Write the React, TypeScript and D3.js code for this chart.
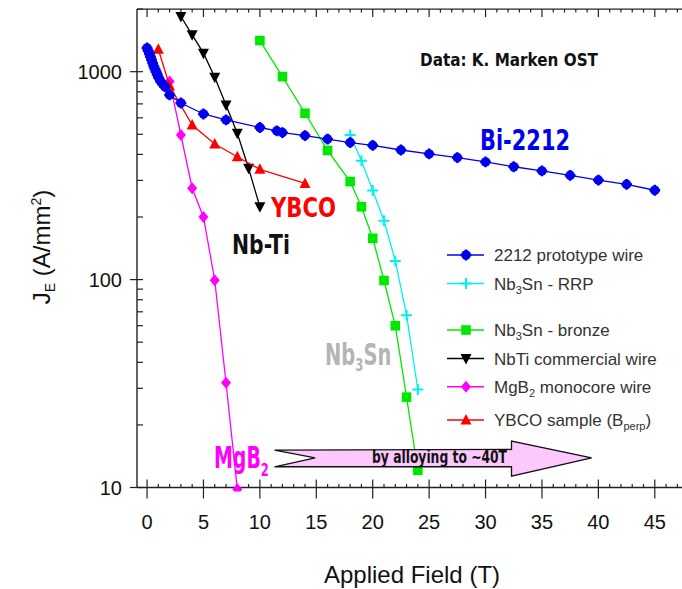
import React from "react";
import * as d3 from "d3";

// Engineering critical current density vs applied field, by conductor
const bi2212Field = [0, 0.1, 0.2, 0.3, 0.4, 0.5, 0.6, 0.7, 0.8, 0.9, 1.0, 1.2, 1.4, 1.6, 2, 3, 5, 7, 10, 11.5, 12, 14, 16, 18, 20, 22.5, 25, 27.5, 30, 32.5, 35, 37.5, 40, 42.5, 45];
const bi2212Je = [1300, 1260, 1220, 1180, 1140, 1100, 1060, 1030, 1000, 970, 940, 900, 870, 845, 773, 707, 626, 586, 539, 519, 509, 493, 474, 456, 442, 420, 402, 386, 368, 349, 333, 317, 301, 287, 269];

const rrpField = [18, 19, 20, 21, 22, 23, 24];
const rrpJe = [496, 373, 268, 192, 123, 67.4, 29.6];

const bronzeField = [10, 12, 14, 16, 18, 19, 20, 21, 22, 23, 24];
const bronzeJe = [1412, 947, 631, 418, 296, 224, 158, 99, 60, 27.2, 12.1];

const nbtiField = [3, 4, 5, 6, 7, 8, 9, 10];
const nbtiJe = [1843, 1504, 1228, 941, 692, 506, 343, 224];

const mgb2Field = [2, 3, 4, 5, 6, 7, 8];
const mgb2Je = [896, 496, 275, 200, 99.3, 31.9, 9.8];

const ybcoField = [1, 2, 4, 6, 8, 10, 14];
const ybcoJe = [1283, 854, 554, 449, 390, 339, 290];

const xTicks = [0, 5, 10, 15, 20, 25, 30, 35, 40, 45];
const yTicks = [10, 100, 1000];

type Shape = "circle" | "plus" | "square" | "down" | "diamond" | "up";

const series: { name: string; field: number[]; je: number[]; color: string; shape: Shape }[] = [
  { name: "bronze", field: bronzeField, je: bronzeJe, color: "#00e800", shape: "square" },
  { name: "rrp", field: rrpField, je: rrpJe, color: "#00f0f0", shape: "plus" },
  { name: "nbti", field: nbtiField, je: nbtiJe, color: "#000000", shape: "down" },
  { name: "mgb2", field: mgb2Field, je: mgb2Je, color: "#ff00ff", shape: "diamond" },
  { name: "ybco", field: ybcoField, je: ybcoJe, color: "#ff0000", shape: "up" },
  { name: "bi2212", field: bi2212Field, je: bi2212Je, color: "#0000ee", shape: "circle" },
];

const W = 682;
const H = 589;
const left = 137;
const right = 683;
const top = 9.1;
const bottom = 487.5;

const x = d3.scaleLinear().domain([-0.89, 47.5]).range([left, right]);
const y = d3.scaleLog().domain([10, 2000]).range([bottom, top]);

function Marker({ shape, cx, cy, color }: { shape: Shape; cx: number; cy: number; color: string }) {
  switch (shape) {
    case "circle":
      return (
        <g>
          <circle cx={cx} cy={cy} r={4.8} fill={color} />
          <path d={`M${cx - 5.4},${cy}H${cx + 5.4}M${cx},${cy - 5.4}V${cy + 5.4}`} stroke={color} strokeWidth={2.4} />
        </g>
      );
    case "plus":
      return <path d={`M${cx - 5.5},${cy}H${cx + 5.5}M${cx},${cy - 5.5}V${cy + 5.5}`} stroke={color} strokeWidth={2} />;
    case "square":
      return <rect x={cx - 4.8} y={cy - 4.8} width={9.6} height={9.6} fill={color} />;
    case "down":
      return <path d={`M${cx - 5.5},${cy - 4.5}L${cx + 5.5},${cy - 4.5}L${cx},${cy + 6}Z`} fill={color} />;
    case "up":
      return <path d={`M${cx - 5.5},${cy + 4.5}L${cx + 5.5},${cy + 4.5}L${cx},${cy - 6}Z`} fill={color} />;
    case "diamond":
      return <path d={`M${cx},${cy - 6}L${cx + 5},${cy}L${cx},${cy + 6}L${cx - 5},${cy}Z`} fill={color} />;
  }
}

const legendItems: { shape: Shape; color: string; cy: number; label: React.ReactNode }[] = [
  { shape: "circle", color: "#0000ee", cy: 255, label: "2212 prototype wire" },
  {
    shape: "plus", color: "#00f0f0", cy: 283.5,
    label: (<>Nb<tspan dy={4} fontSize={11}>3</tspan><tspan dy={-4}>Sn - RRP</tspan></>),
  },
  {
    shape: "square", color: "#00e800", cy: 330,
    label: (<>Nb<tspan dy={4} fontSize={11}>3</tspan><tspan dy={-4}>Sn - bronze</tspan></>),
  },
  { shape: "down", color: "#000000", cy: 358.5, label: "NbTi commercial wire" },
  {
    shape: "diamond", color: "#ff00ff", cy: 386.8,
    label: (<>MgB<tspan dy={4} fontSize={11}>2</tspan><tspan dy={-4}> monocore wire</tspan></>),
  },
  {
    shape: "up", color: "#ff0000", cy: 420,
    label: (<>YBCO sample (B<tspan dy={4} fontSize={11}>perp</tspan><tspan dy={-4}>)</tspan></>),
  },
];

export default function App() {
  const line = d3
    .line<[number, number]>()
    .x((d) => x(d[0]))
    .y((d) => y(d[1]));

  const xMinor = d3.range(0, 48).filter((v) => v % 5 !== 0);
  const yMinor: number[] = [];
  [10, 100, 1000].forEach((dec) => {
    for (let k = 2; k <= 9; k++) if (dec * k <= 2000) yMinor.push(dec * k);
  });

  // annotation arrow geometry
  const tail = x(11.3);
  const notch = x(14.9);
  const headBase = x(32.3);
  const tip = x(39.4);
  const ac = y(13.9);

  const sans = "'Liberation Sans', Arial, sans-serif";
  const bold = "'DejaVu Sans', Verdana, sans-serif";

  return (
    <div style={{ position: "fixed", left: 0, top: 0, width: W, height: H, background: "#fff" }}>
      <svg width={W} height={H} viewBox={`0 0 ${W} ${H}`}>
        <rect width={W} height={H} fill="#ffffff" />
        <defs>
          <clipPath id="plot">
            <rect x={left} y={top} width={right - left} height={bottom - top + 4} />
          </clipPath>
        </defs>

        {/* frame */}
        <g stroke="#222" strokeWidth={1.4} fill="none">
          <line x1={left} x2={left} y1={top} y2={bottom} />
          <line x1={left} x2={W} y1={top} y2={top} />
          <line x1={left} x2={W} y1={bottom} y2={bottom} />
        </g>

        {/* x ticks, bottom and top; y ticks on the left */}
        <g stroke="#222" strokeWidth={1.2}>
          {xTicks.map((t) => (
            <g key={t}>
              <line x1={x(t)} x2={x(t)} y1={bottom - 8} y2={bottom + 11} />
              <line x1={x(t)} x2={x(t)} y1={top} y2={top + 8} />
            </g>
          ))}
          {xMinor.map((t) => (
            <g key={t}>
              <line x1={x(t)} x2={x(t)} y1={bottom - 3.5} y2={bottom} />
              <line x1={x(t)} x2={x(t)} y1={top} y2={top + 3.5} />
            </g>
          ))}
          {yTicks.map((t) => (
            <line key={t} x1={left - 7} x2={left + 6} y1={y(t)} y2={y(t)} />
          ))}
          {yMinor.map((t) => (
            <line key={t} x1={left} x2={left + 6} y1={y(t)} y2={y(t)} />
          ))}
        </g>

        {/* tick labels */}
        <g fontFamily={sans} fontSize={20} fill="#111">
          {xTicks.map((t) => (
            <text key={t} x={x(t)} y={529} textAnchor="middle">{t}</text>
          ))}
          {yTicks.map((t) => (
            <text key={t} x={122} y={y(t) + 7} textAnchor="end">{t}</text>
          ))}
        </g>

        {/* axis titles */}
        <text x={412} y={583} textAnchor="middle" fontFamily={sans} fontSize={24} fill="#111">
          Applied Field (T)
        </text>
        <text transform="translate(50,247) rotate(-90)" textAnchor="middle" fontFamily={sans} fontSize={24} fill="#111">
          J<tspan dy={5} fontSize={14}>E</tspan>
          <tspan dy={-5}> (A/mm</tspan>
          <tspan dy={-9} fontSize={14}>2</tspan>
          <tspan dy={9}>)</tspan>
        </text>

        {/* data */}
        <g clipPath="url(#plot)">
          {series.map((s) => {
            const pts = s.field.map((f, i) => [f, s.je[i]] as [number, number]);
            return (
              <g key={s.name}>
                <path d={line(pts) || ""} fill="none" stroke={s.color} strokeWidth={1.3} />
                {pts.map((p, i) => (
                  <Marker key={i} shape={s.shape} cx={x(p[0])} cy={y(p[1])} color={s.color} />
                ))}
              </g>
            );
          })}
        </g>

        {/* legend */}
        <g>
          {legendItems.map((it, i) => (
            <g key={i}>
              <line x1={447} x2={484} y1={it.cy} y2={it.cy} stroke={it.color} strokeWidth={1.5} />
              <Marker shape={it.shape} cx={466} cy={it.cy} color={it.color} />
              <text x={494} y={it.cy + 6} fontFamily={sans} fontSize={17} fill="#333">
                {it.label}
              </text>
            </g>
          ))}
        </g>

        {/* labels on the curves */}
        <g fontFamily={bold} fontWeight="bold">
          <text x={420} y={66} fontSize={18} fill="#111" textLength={178} lengthAdjust="spacingAndGlyphs">
            Data:  K. Marken OST
          </text>
          <text x={480} y={150} fontSize={29} fill="#0000ee" textLength={90} lengthAdjust="spacingAndGlyphs">
            Bi-2212
          </text>
          <text x={271} y={217} fontSize={26} fill="#ff0000" textLength={65} lengthAdjust="spacingAndGlyphs">
            YBCO
          </text>
          <text x={232} y={254} fontSize={26} fill="#111" textLength={58} lengthAdjust="spacingAndGlyphs">
            Nb-Ti
          </text>
          <text transform="translate(325,365) scale(0.65,1)" fontSize={30} fill="#b4b4b4">
            Nb<tspan dy={6} fontSize={18}>3</tspan>
            <tspan dy={-6}>Sn</tspan>
          </text>
          <text transform="translate(214,468) scale(0.64,1)" fontSize={29.6} fill="#ff00ff">
            MgB<tspan dy={8} fontSize={18}>2</tspan>
          </text>
        </g>

        {/* arrow: higher fields by alloying */}
        <polygon
          points={`${tail},${ac - 7.6} ${headBase},${ac - 8.3} ${headBase},${ac - 16.6} ${tip},${ac} ${headBase},${ac + 18.4} ${headBase},${ac + 9} ${tail},${ac + 9} ${notch},${ac}`}
          fill="#fdc8fd"
          stroke="#111"
          strokeWidth={1.3}
        />
        <text x={372} y={463} fontFamily={bold} fontWeight="bold" fontSize={17} fill="#111" textLength={135} lengthAdjust="spacingAndGlyphs">
          by alloying to ~40T
        </text>
      </svg>
    </div>
  );
}
